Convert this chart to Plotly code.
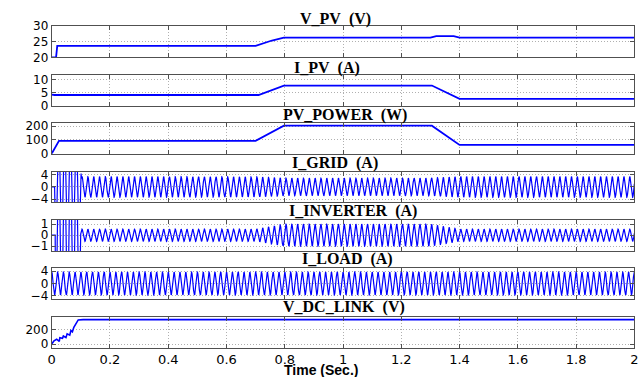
import numpy as np
import plotly.graph_objects as go

W, H = 642, 377

# ---------------- data ----------------
X_TICKS = [0, 0.2, 0.4, 0.6, 0.8, 1.0, 1.2, 1.4, 1.6, 1.8, 2.0]
X_TICK_TEXT = ["0", "0.2", "0.4", "0.6", "0.8", "1", "1.2", "1.4", "1.6", "1.8", "2"]

# V_PV (V) breakpoints
vpv_t = [0, 0.015, 0.019, 0.2, 0.205, 0.225, 0.235, 0.27, 0.275, 0.29, 0.70, 0.756, 0.797, 1.30, 1.32, 1.38, 1.40, 2.0]
vpv_v = [20, 20, 23.6, 23.6, 23.8, 23.8, 23.6, 23.6, 23.8, 23.6, 23.6, 25.3, 26.2, 26.2, 26.7, 26.7, 26.2, 26.2]

# I_PV (A) breakpoints
ipv_t = [0, 0.01, 0.71, 0.797, 1.305, 1.40, 2.0]
ipv_v = [4.2, 4.05, 4.05, 7.7, 7.7, 2.55, 2.55]

# PV_POWER (W) breakpoints
ppv_t = [0, 0.025, 0.70, 0.797, 1.305, 1.40, 2.0]
ppv_v = [0, 93, 93, 204, 204, 64, 64]

# V_DC_LINK (V) breakpoints
vdc_t = [0, 0.008, 0.017, 0.026, 0.028, 0.037, 0.040, 0.049, 0.053, 0.062, 0.066, 0.071, 0.076, 0.083, 0.091, 0.108, 2.0]
vdc_v = [0, 44, 67, 36, 89, 80, 111, 89, 142, 124, 187, 169, 231, 276, 333, 337, 337]

# AC currents: 50 Hz, amplitude envelopes (time, peak amplitude)
F_AC = 50.0
igrid_env_t = [0.0, 0.01, 0.011, 0.098, 0.102, 0.70, 0.80, 1.30, 1.40, 2.0]
igrid_env_a = [0.0, 0.0, 20.0, 20.0, 3.4, 3.3, 2.9, 2.9, 3.4, 3.4]
iinv_env_t = [0.0, 0.012, 0.013, 0.094, 0.098, 0.70, 0.80, 1.30, 1.40, 2.0]
iinv_env_a = [0.0, 0.0, 8.0, 8.0, 0.55, 0.55, 1.0, 1.0, 0.55, 0.55]
iload_env_t = [0.0, 2.0]
iload_env_a = [3.7, 3.7]

panels = [
    dict(name="V_PV\u00a0\u00a0(V)", rng=[20, 30], ticks=[20, 25, 30], text=["20", "25", "30"], tx=336, ty=12),
    dict(name="I_PV\u00a0\u00a0(A)", rng=[0, 11.7], ticks=[0, 5, 10], text=["0", "5", "10"], tx=327, ty=63),
    dict(name="PV_POWER\u00a0\u00a0(W)", rng=[0, 222], ticks=[0, 100, 200], text=["0", "100", "200"], tx=345, ty=112),
    dict(name="I_GRID\u00a0\u00a0(A)", rng=[-5, 5], ticks=[-4, 0, 4], text=["\u22124", "0", "4"], tx=335, ty=161.5),
    dict(name="I_INVERTER\u00a0\u00a0(A)", rng=[-1.42, 1.42], ticks=[-1, 0, 1], text=["\u22121", "0", "1"], tx=353, ty=212),
    dict(name="I_LOAD\u00a0\u00a0(A)", rng=[-5, 5], ticks=[-4, 0, 4], text=["\u22124", "0", "4"], tx=348, ty=262),
    dict(name="V_DC_LINK\u00a0\u00a0(V)", rng=[-52, 377], ticks=[0, 200], text=["0", "200"], tx=344, ty=312),
]
# panel pixel boxes (top, bottom)
boxes = [(19.3, 52.3), (70.8, 102.3), (120.7, 152.3), (171, 202.7), (220.7, 253.3), (271, 303.3), (321.7, 354)]
X_LEFT, X_RIGHT = 48.3, 638.3

# ---------------- build waveforms ----------------
t = np.linspace(0, 2.0, 16001)
w = 2 * np.pi * F_AC
i_grid = np.interp(t, igrid_env_t, igrid_env_a) * np.sin(w * t + 0.3)
i_inv = np.interp(t, iinv_env_t, iinv_env_a) * np.sin(w * t + 0.3)
i_load = np.interp(t, iload_env_t, iload_env_a) * np.cos(w * t)

series = [
    (vpv_t, vpv_v, 1.8),
    (ipv_t, ipv_v, 1.8),
    (ppv_t, ppv_v, 1.8),
    (t, i_grid, 1.2),
    (t, i_inv, 1.2),
    (t, i_load, 1.2),
    (vdc_t, vdc_v, 1.6),
]

fig = go.Figure()
BLUE = "#0000ff"
GRID = "#b0b0b0"
AXC = "#505050"
TICKFONT = dict(family="DejaVu Sans", size=12, color="#000000")

for i, ((xs, ys, lw), p, (top, bot)) in enumerate(zip(series, panels, boxes)):
    k = "" if i == 0 else str(i + 1)
    fig.add_trace(go.Scatter(x=list(xs), y=list(ys), mode="lines",
                             line=dict(color=BLUE, width=lw),
                             xaxis="x" + k, yaxis="y" + k, showlegend=False,
                             hoverinfo="skip"))
    last = (i == len(panels) - 1)
    fig.layout["xaxis" + k] = dict(
        domain=[X_LEFT / W, X_RIGHT / W], anchor="y" + k, range=[0, 2],
        tickvals=X_TICKS, ticktext=X_TICK_TEXT, showticklabels=last,
        showgrid=True, gridcolor=GRID, griddash="1px,2px", gridwidth=1,
        showline=True, mirror="ticks", linecolor=AXC, linewidth=1,
        ticks="inside", ticklen=4, tickcolor=AXC, zeroline=False,
        tickfont=dict(family="DejaVu Sans", size=13, color="#000000"),
        ticklabelstandoff=0, ticklabeloverflow="allow",
    )
    fig.layout["yaxis" + k] = dict(
        domain=[1 - bot / H, 1 - top / H], anchor="x" + k, range=p["rng"],
        tickvals=p["ticks"], ticktext=p["text"],
        showgrid=True, gridcolor=GRID, griddash="1px,2px", gridwidth=1,
        showline=True, mirror="ticks", linecolor=AXC, linewidth=1,
        ticks="inside", ticklen=4, tickcolor=AXC, zeroline=False,
        tickfont=TICKFONT, ticklabelstandoff=0, ticklabeloverflow="allow",
    )
    fig.add_annotation(text="<b>" + p["name"] + "</b>", x=p["tx"] / W, y=1 - p["ty"] / H,
                       xref="paper", yref="paper", xanchor="center", yanchor="middle",
                       showarrow=False,
                       font=dict(family="Liberation Serif", size=16, color="#000000"))

fig.add_annotation(text="<b>Time (Sec.)</b>", x=321 / W, y=0, xref="paper", yref="paper",
                   xanchor="center", yanchor="bottom", showarrow=False, borderpad=0,
                   yshift=-9,
                   font=dict(family="Liberation Sans", size=14, color="#000000"))

fig.update_layout(width=W, height=H, autosize=False,
                  margin=dict(l=0, r=0, t=0, b=0, pad=0),
                  paper_bgcolor="white", plot_bgcolor="white")

fig.write_html("out.html")
